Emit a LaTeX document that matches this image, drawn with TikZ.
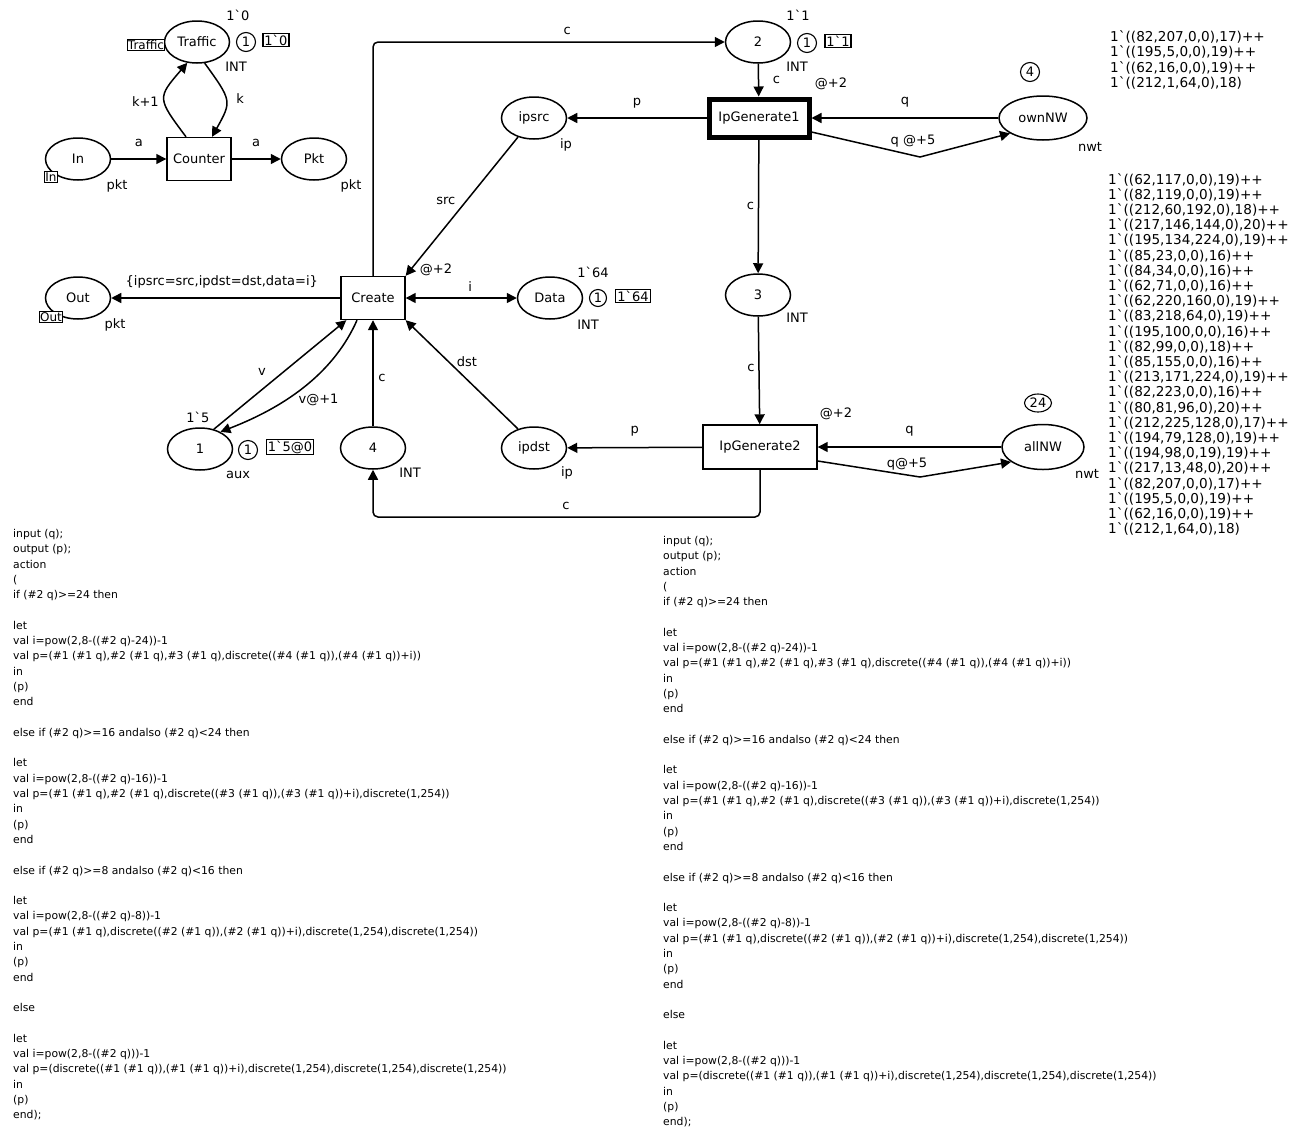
\documentclass[tikz,border=0pt]{standalone}
\usepackage{fontspec}
\setmainfont{DejaVu Sans}
\usetikzlibrary{shapes.geometric, arrows.meta, positioning}
\newcommand{\netfont}{\fontsize{13}{15}\selectfont}
\newcommand{\tagfont}{\fontsize{12}{13}\selectfont}
\newcommand{\codefont}{\fontsize{10.8}{15.3}\selectfont}
\newcommand{\tokfont}{\fontsize{13.6}{15.2}\selectfont}
\newcommand{\grv}{\textasciigrave}
\newcommand{\ipaction}{%
input (q);\\
output (p);\\
action\\
(\\
if (\#2 q)>=24 then\\[15.3pt]
let\\
val i=pow(2,8-((\#2 q)-24))-1\\
val p=(\#1 (\#1 q),\#2 (\#1 q),\#3 (\#1 q),discrete((\#4 (\#1 q)),(\#4 (\#1 q))+i))\\
in\\
(p)\\
end\\[15.3pt]
else if (\#2 q)>=16 andalso (\#2 q)<24 then\\[15.3pt]
let\\
val i=pow(2,8-((\#2 q)-16))-1\\
val p=(\#1 (\#1 q),\#2 (\#1 q),discrete((\#3 (\#1 q)),(\#3 (\#1 q))+i),discrete(1,254))\\
in\\
(p)\\
end\\[15.3pt]
else if (\#2 q)>=8 andalso (\#2 q)<16 then\\[15.3pt]
let\\
val i=pow(2,8-((\#2 q)-8))-1\\
val p=(\#1 (\#1 q),discrete((\#2 (\#1 q)),(\#2 (\#1 q))+i),discrete(1,254),discrete(1,254))\\
in\\
(p)\\
end\\[15.3pt]
else\\[15.3pt]
let\\
val i=pow(2,8-((\#2 q)))-1\\
val p=(discrete((\#1 (\#1 q)),(\#1 (\#1 q))+i),discrete(1,254),discrete(1,254),discrete(1,254))\\
in\\
(p)\\
end);}

\begin{document}
\begin{tikzpicture}[
        x=1pt, y=-1pt,
        place/.style={
            ellipse, draw, line width=1.5pt,
            minimum width=65pt, minimum height=42pt, inner sep=0pt, font=\netfont
        },
        trans/.style={
            rectangle, draw, line width=1.4pt,
            minimum width=64pt, minimum height=43pt, inner sep=0pt, font=\netfont
        },
        arc/.style={draw, line width=1.5pt, -{Triangle[length=10pt, width=10pt]}},
        insc/.style={font=\netfont, inner sep=1pt},
        tag/.style={draw, line width=1.1pt, fill=white, inner sep=0.8pt, font=\tagfont},
        cnt/.style={circle, draw, line width=1.1pt, inner sep=0pt, minimum size=19pt, font=\netfont},
        initbox/.style={draw, line width=1.1pt, inner sep=1.5pt, font=\netfont},
        code/.style={anchor=north west, align=left, inner sep=0pt, font=\codefont},
        toklist/.style={anchor=north west, align=left, inner sep=0pt, font=\tokfont}
    ]

    \fill[white] (0,0) rectangle (1302,1133);
    \useasboundingbox (0,0) rectangle (1302,1133);

    % Counter part
    \node[place] (traffic) at (197,42) {Traffic};
    \node[tag] (traffictag) at (146,45) {Traffic};
    \node[insc] (trafficinit) at (238,15) {1\grv0};
    \node[cnt] (trafficcnt) at (246,42) {1};
    \node[initbox] (trafficmark) at (276,40) {1\grv0};
    \node[insc] (traffictype) at (236,67) {INT};
    \node[trans] (counter) at (199,159) {Counter};
    \node[place] (in) at (78,159) {In};
    \node[tag] (intag) at (51,177) {In};
    \node[insc] (intype) at (117,186) {pkt};
    \node[place] (pkt) at (314,159) {Pkt};
    \node[insc] (pkttype) at (351,186) {pkt};

    % Source address generator
    \node[place] (p2) at (758,42) {2};
    \node[insc] (p2init) at (798,15) {1\grv1};
    \node[cnt] (p2cnt) at (807,43) {1};
    \node[initbox] (p2mark) at (838,41) {1\grv1};
    \node[insc] (p2type) at (797,67) {INT};
    \node[trans, line width=5pt, minimum width=100pt, minimum height=38pt] (ipg1) at (759,118) {IpGenerate1};
    \node[insc] (ipg1time) at (831,84) {@+2};
    \node[place] (ipsrc) at (534,118) {ipsrc};
    \node[insc] (ipsrctype) at (566,145) {ip};
    \node[place, minimum width=88pt, minimum height=44pt] (ownnw) at (1043,118) {ownNW};
    \node[insc] (ownnwtype) at (1090,147) {nwt};
    \node[cnt] (ownnwcnt) at (1030,72) {4};
    \node[toklist, font=\fontsize{13.6}{15.6}\selectfont] (ownnwlist) at (1110,30) {%
        1\grv((82,207,0,0),17)++\\
        1\grv((195,5,0,0),19)++\\
        1\grv((62,16,0,0),19)++\\
        1\grv((212,1,64,0),18)};

    % Packet creation
    \node[trans] (create) at (373,298) {Create};
    \node[insc] (createtime) at (436,270) {@+2};
    \node[place] (data) at (550,298) {Data};
    \node[insc] (datainit) at (593,272) {1\grv64};
    \node[cnt, minimum size=17pt] (datacnt) at (598,298) {1};
    \node[initbox] (datamark) at (633,296) {1\grv64};
    \node[insc] (datatype) at (588,325) {INT};
    \node[place] (out) at (78,298) {Out};
    \node[tag] (outtag) at (51,317) {Out};
    \node[insc] (outtype) at (115,325) {pkt};
    \node[place] (p3) at (758,295) {3};
    \node[insc] (p3type) at (797,318) {INT};

    % Destination address generator
    \node[place] (p1) at (200,449) {1};
    \node[insc] (p1init) at (198,417) {1\grv5};
    \node[cnt] (p1cnt) at (248,450) {1};
    \node[initbox] (p1mark) at (290,447) {1\grv5@0};
    \node[insc] (p1type) at (238,475) {aux};
    \node[place] (p4) at (373,448) {4};
    \node[insc] (p4type) at (410,473) {INT};
    \node[place] (ipdst) at (534,448) {ipdst};
    \node[insc] (ipdsttype) at (567,473) {ip};
    \node[trans, minimum width=114pt, minimum height=44pt] (ipg2) at (760,447) {IpGenerate2};
    \node[insc] (ipg2time) at (836,414) {@+2};
    \node[place, minimum width=82pt, minimum height=45pt] (allnw) at (1043,447) {allNW};
    \node[ellipse, draw, line width=1.1pt, inner sep=0pt, minimum width=27pt, minimum height=18pt, font=\netfont] (allnwcnt) at (1038,403) {24};
    \node[insc] (allnwtype) at (1087,474) {nwt};
    \node[toklist] (allnwlist) at (1108,173) {%
        1\grv((62,117,0,0),19)++\\
        1\grv((82,119,0,0),19)++\\
        1\grv((212,60,192,0),18)++\\
        1\grv((217,146,144,0),20)++\\
        1\grv((195,134,224,0),19)++\\
        1\grv((85,23,0,0),16)++\\
        1\grv((84,34,0,0),16)++\\
        1\grv((62,71,0,0),16)++\\
        1\grv((62,220,160,0),19)++\\
        1\grv((83,218,64,0),19)++\\
        1\grv((195,100,0,0),16)++\\
        1\grv((82,99,0,0),18)++\\
        1\grv((85,155,0,0),16)++\\
        1\grv((213,171,224,0),19)++\\
        1\grv((82,223,0,0),16)++\\
        1\grv((80,81,96,0),20)++\\
        1\grv((212,225,128,0),17)++\\
        1\grv((194,79,128,0),19)++\\
        1\grv((194,98,0,19),19)++\\
        1\grv((217,13,48,0),20)++\\
        1\grv((82,207,0,0),17)++\\
        1\grv((195,5,0,0),19)++\\
        1\grv((62,16,0,0),19)++\\
        1\grv((212,1,64,0),18)};

    % Code segments of the generators
    \node[code] (codeleft) at (13,529) {\ipaction};
    \node[code] (coderight) at (663,536) {\ipaction};

    % Helper points
    \coordinate (kink1) at (920,157);
    \coordinate (kink2) at (920,477);
    \coordinate (loopc) at (566,517);

    % Counter arcs
    \draw[arc] (in) -- node[insc, yshift=16pt] (la1) {a} (counter);
    \draw[arc] (counter) -- node[insc, yshift=16pt] (la2) {a} (pkt);
    \draw[arc] ([xshift=-13pt]counter.north) .. controls (157,98) .. node[insc, xshift=-19pt, yshift=-3pt] (lk1) {k+1} (traffic.-115);
    \draw[arc] (traffic.-70) .. controls (232,101) .. node[insc, xshift=14pt, yshift=2pt] (lk) {k} ([xshift=13pt]counter.north);

    % Generator arcs
    \draw[arc, rounded corners=5pt] (create.north) |- node[insc, pos=0.776, yshift=11pt] (lc1) {c} (p2.west);
    \draw[arc] (p2) -- node[insc, xshift=18pt] (lc2) {c} (ipg1);
    \draw[arc] (ipg1) -- node[insc, yshift=15pt] (lp1) {p} (ipsrc);
    \draw[arc] (ownnw) -- node[insc, yshift=16pt] (lq1) {q} (ipg1);
    \draw[arc] ([yshift=-14pt]ipg1.east) -- (kink1) node[insc, xshift=-7pt, yshift=16pt] (lq5a) {q @+5} -- (ownnw.-155);
    \draw[arc] (ipg1) -- node[insc, xshift=-8pt] (lc3) {c} (p3);
    \draw[arc] (p3) -- node[insc, xshift=-8pt, yshift=3pt] (lc4) {c} (ipg2);
    \draw[arc] (allnw) -- node[insc, yshift=16pt] (lq2) {q} (ipg2);
    \draw[arc] ([yshift=-14pt]ipg2.east) -- (kink2) node[insc, xshift=-13pt, yshift=13pt] (lq5b) {q@+5} -- (allnw.-155);
    \draw[arc] (ipg2) -- node[insc, yshift=16pt] (lp2) {p} (ipdst);
    \draw[arc, rounded corners=5pt] (ipg2.south) |- (loopc) node[insc, yshift=11pt] (lc5) {c} -| (p4.south);

    % Creation arcs
    \draw[arc] (p4) -- node[insc, xshift=9pt, yshift=-5pt] (lc6) {c} (create);
    \draw[arc] (ipdst.130) -- node[insc, xshift=5pt, yshift=13pt] (ldst) {dst} (create.south east);
    \draw[arc] (ipsrc.-130) -- node[insc, xshift=-16pt, yshift=5pt] (lsrc) {src} (create.north east);
    \draw[arc, {Triangle[length=10pt, width=10pt]}-{Triangle[length=10pt, width=10pt]}] (create) -- node[insc, xshift=9pt, yshift=11pt] (li) {i} (data);
    \draw[arc] (create) -- node[insc, xshift=-4pt, yshift=16pt] (lrec) {\{ipsrc=src,ipdst=dst,data=i\}} (out);
    \draw[arc] (p1.55) -- node[insc, xshift=-18pt, yshift=3pt] (lv) {v} ([xshift=6pt]create.south west);
    \draw[arc] ([xshift=-16pt]create.south) .. controls (335,370) and (290,405) .. node[insc, xshift=12pt, yshift=-15pt] (lv1) {v@+1} (p1.40);

\end{tikzpicture}
\end{document}
